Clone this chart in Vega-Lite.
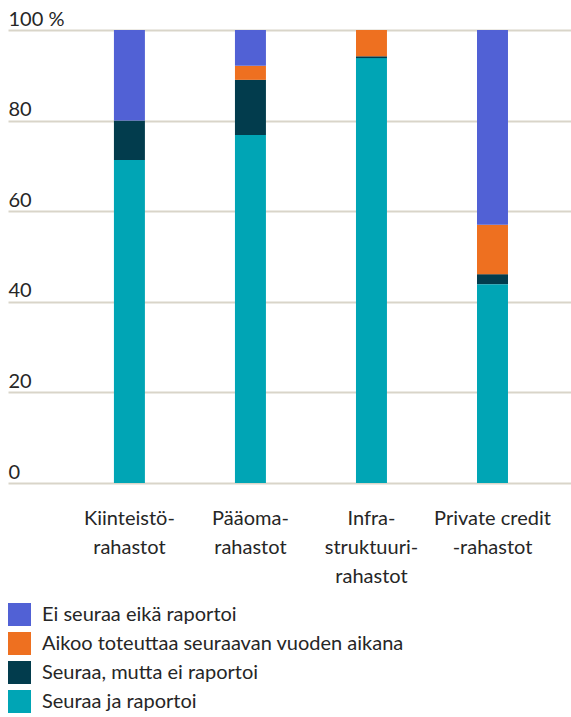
{
  "$schema": "https://vega.github.io/schema/vega-lite/v6.json",
  "width": 563,
  "height": 453,
  "autosize": {"type": "none"},
  "padding": {"left": 8, "top": 30, "right": 0, "bottom": 234},
  "background": "white",
  "data": {
    "values": [
      {"rahasto": "Kiinteistö-|rahastot", "luokka": "Seuraa ja raportoi", "ord": 1, "arvo": 71.3},
      {"rahasto": "Kiinteistö-|rahastot", "luokka": "Seuraa, mutta ei raportoi", "ord": 2, "arvo": 8.7},
      {"rahasto": "Kiinteistö-|rahastot", "luokka": "Aikoo toteuttaa seuraavan vuoden aikana", "ord": 3, "arvo": 0},
      {"rahasto": "Kiinteistö-|rahastot", "luokka": "Ei seuraa eikä raportoi", "ord": 4, "arvo": 20},
      {"rahasto": "Pääoma-|rahastot", "luokka": "Seuraa ja raportoi", "ord": 1, "arvo": 76.8},
      {"rahasto": "Pääoma-|rahastot", "luokka": "Seuraa, mutta ei raportoi", "ord": 2, "arvo": 12.2},
      {"rahasto": "Pääoma-|rahastot", "luokka": "Aikoo toteuttaa seuraavan vuoden aikana", "ord": 3, "arvo": 3.1},
      {"rahasto": "Pääoma-|rahastot", "luokka": "Ei seuraa eikä raportoi", "ord": 4, "arvo": 7.9},
      {"rahasto": "Infra-|struktuuri-|rahastot", "luokka": "Seuraa ja raportoi", "ord": 1, "arvo": 93.8},
      {"rahasto": "Infra-|struktuuri-|rahastot", "luokka": "Seuraa, mutta ei raportoi", "ord": 2, "arvo": 0.4},
      {"rahasto": "Infra-|struktuuri-|rahastot", "luokka": "Aikoo toteuttaa seuraavan vuoden aikana", "ord": 3, "arvo": 5.8},
      {"rahasto": "Infra-|struktuuri-|rahastot", "luokka": "Ei seuraa eikä raportoi", "ord": 4, "arvo": 0},
      {"rahasto": "Private credit|-rahastot", "luokka": "Seuraa ja raportoi", "ord": 1, "arvo": 43.9},
      {"rahasto": "Private credit|-rahastot", "luokka": "Seuraa, mutta ei raportoi", "ord": 2, "arvo": 2.2},
      {"rahasto": "Private credit|-rahastot", "luokka": "Aikoo toteuttaa seuraavan vuoden aikana", "ord": 3, "arvo": 10.9},
      {"rahasto": "Private credit|-rahastot", "luokka": "Ei seuraa eikä raportoi", "ord": 4, "arvo": 43.0}
    ]
  },
  "mark": {"type": "bar"},
  "encoding": {
    "x": {
      "field": "rahasto",
      "type": "nominal",
      "sort": null,
      "title": null,
      "scale": {"paddingInner": 0.744, "paddingOuter": 0.698, "align": 0.627},
      "axis": {
        "labelAngle": 0,
        "labelExpr": "split(datum.label, '|')",
        "labelFont": "Lato",
        "labelFontSize": 20,
        "labelColor": "#262626",
        "labelLineHeight": 29,
        "labelBaseline": "top",
        "labelPadding": 25,
        "ticks": false,
        "domain": false,
        "grid": false
      }
    },
    "y": {
      "field": "arvo",
      "type": "quantitative",
      "stack": "zero",
      "title": null,
      "scale": {"domain": [0, 100], "nice": false},
      "axis": {
        "values": [0, 20, 40, 60, 80, 100],
        "labelExpr": "datum.value == 100 ? '100 %' : datum.label",
        "labelAlign": "left",
        "labelBaseline": "alphabetic",
        "labelOffset": -5,
        "labelPadding": 0,
        "tickSize": 0,
        "ticks": false,
        "domain": false,
        "grid": true,
        "gridColor": "#d9d5c9",
        "gridWidth": 2,
        "labelFont": "Lato",
        "labelFontSize": 20,
        "labelColor": "#262626",
        "zindex": 0
      }
    },
    "order": {"field": "ord", "type": "quantitative"},
    "color": {
      "field": "luokka",
      "type": "nominal",
      "scale": {
        "domain": ["Ei seuraa eikä raportoi", "Aikoo toteuttaa seuraavan vuoden aikana", "Seuraa, mutta ei raportoi", "Seuraa ja raportoi"],
        "range": ["#5161d5", "#ee7020", "#023c4d", "#00a5b5"]
      },
      "legend": {
        "title": null,
        "orient": "none",
        "legendX": 0,
        "legendY": 573,
        "direction": "vertical",
        "padding": 0,
        "symbolType": "square",
        "symbolSize": 529,
        "symbolStrokeWidth": 0,
        "symbolOpacity": 1,
        "rowPadding": 6,
        "labelOffset": 11,
        "labelFont": "Lato",
        "labelFontSize": 20,
        "labelColor": "#262626",
        "labelLimit": 500
      }
    }
  },
  "config": {
    "view": {"stroke": null}
  }
}
